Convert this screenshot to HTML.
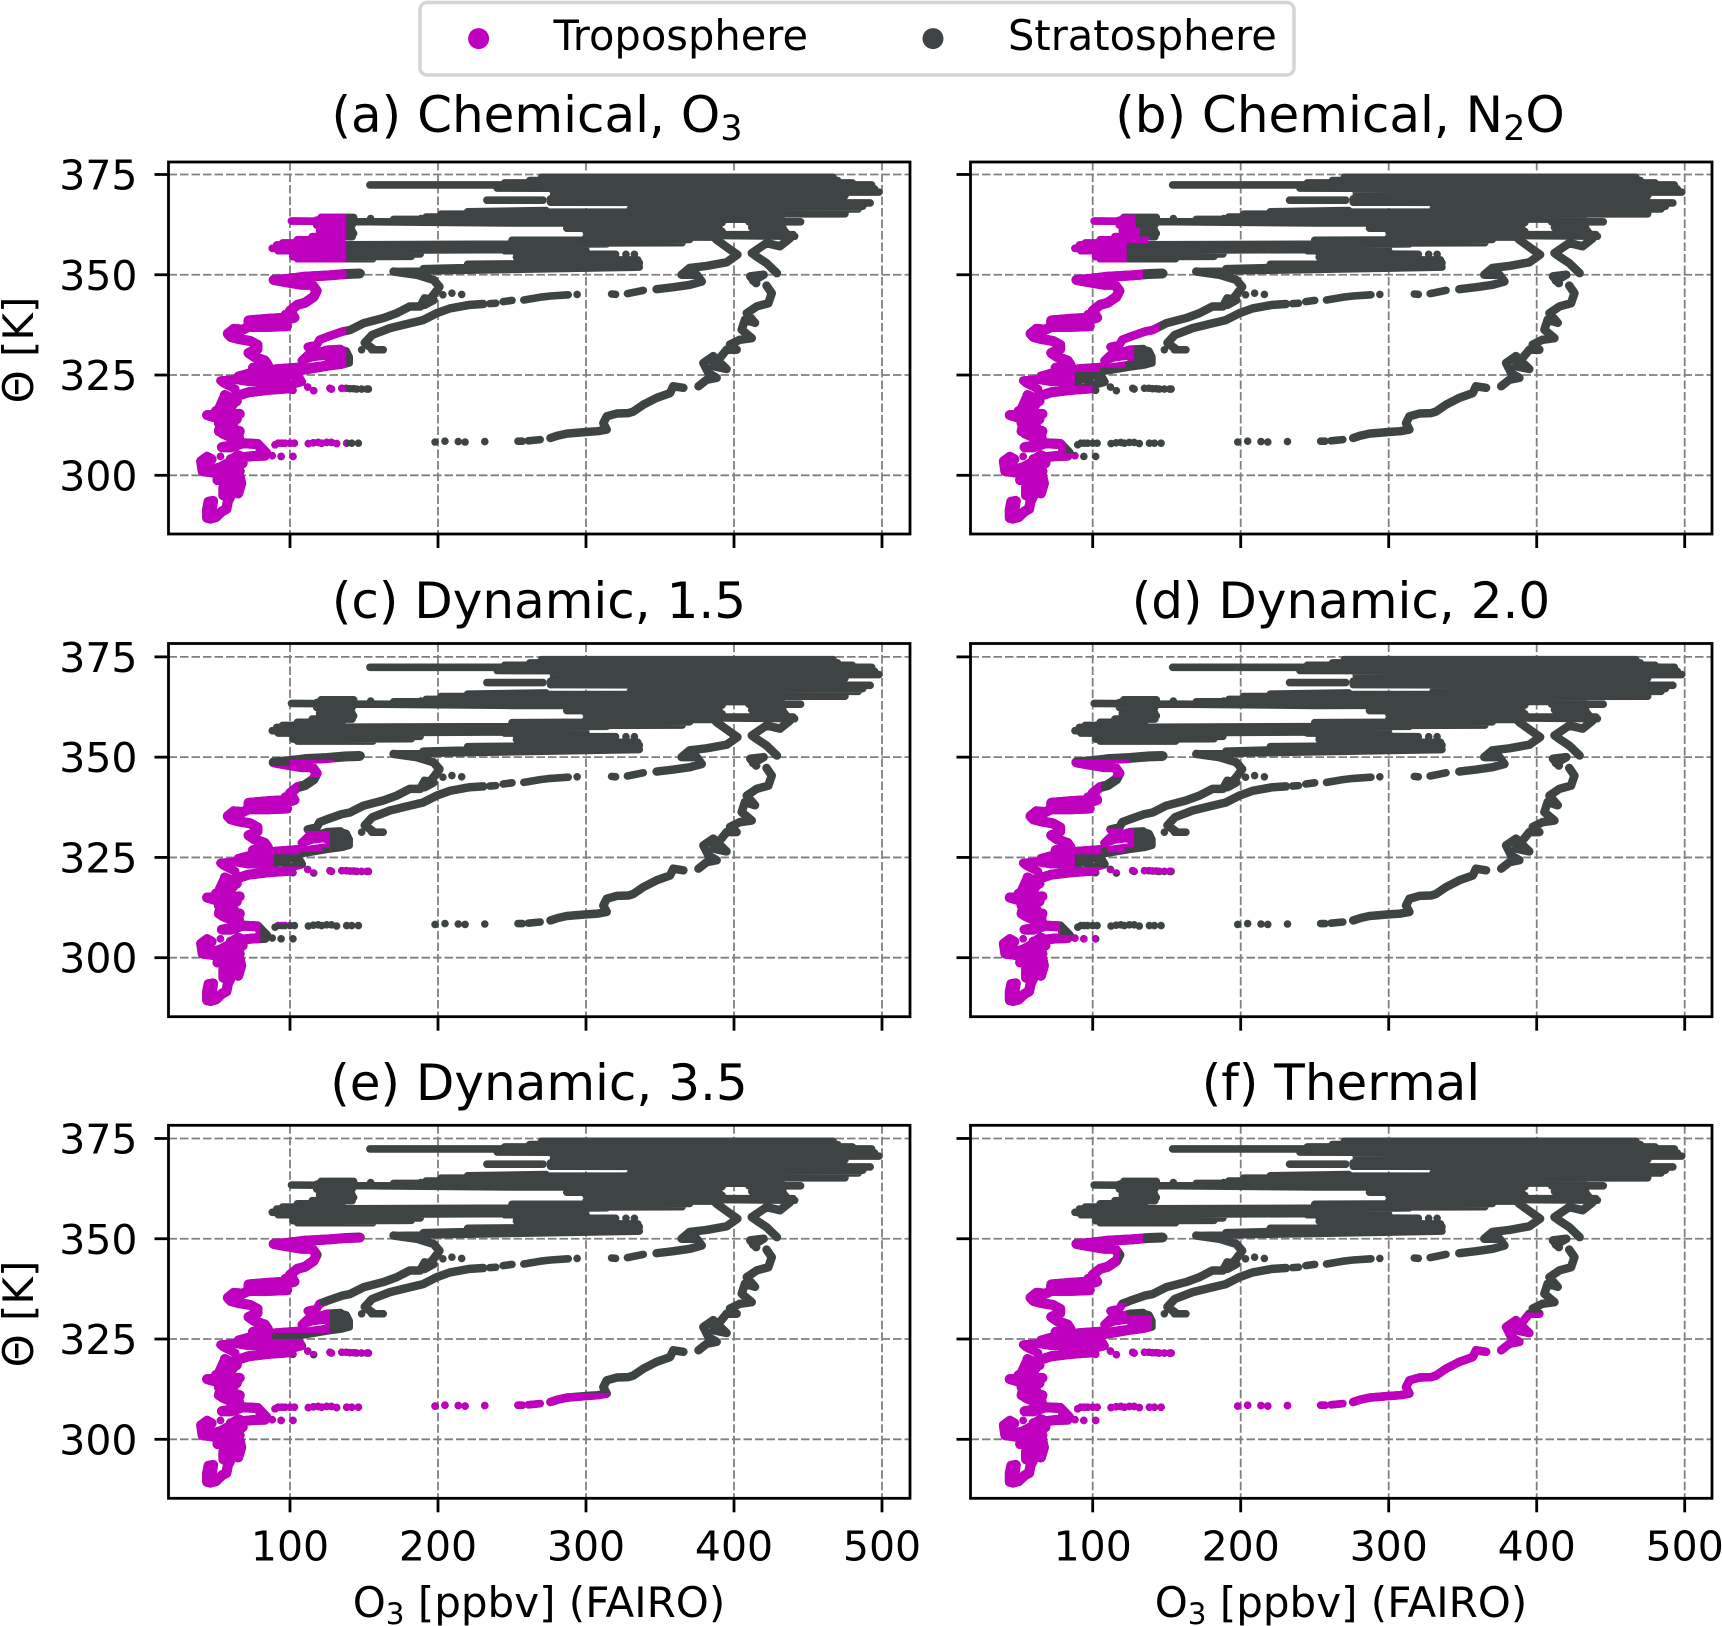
<!DOCTYPE html>
<html lang="en">
<head>
<meta charset="utf-8">
<title>Tropopause classification panels</title>
<style>
html,body{margin:0;padding:0;background:#fff;}
svg{display:block;font-family:"DejaVu Sans","Liberation Sans",sans-serif;fill:#000;}
</style>
</head>
<body>
<svg id="figure" xmlns="http://www.w3.org/2000/svg" width="1722" height="1626" viewBox="0 0 1722 1626">
  <rect width="1722" height="1626" fill="#fff"/>
  <defs id="clip-defs"></defs>
  <g id="panels"></g>

  <g>
    <rect x="420" y="2.5" width="874" height="72.5" rx="7" fill="#fff" stroke="#d5d5d5" stroke-width="3.5"/>
    <circle cx="478.6" cy="38.6" r="10.5" fill="#bf00bf"/>
    <text x="553.5" y="50" font-size="41.6">Troposphere</text>
    <circle cx="933" cy="38.6" r="10.5" fill="#3e4444"/>
    <text x="1008" y="50" font-size="41.6">Stratosphere</text>
  </g>

  <text x="537" y="132" text-anchor="middle" font-size="50">(a) Chemical, O<tspan dy="8" font-size="35">3</tspan></text>
  <text x="1340" y="132" text-anchor="middle" font-size="50">(b) Chemical, N<tspan dy="8" font-size="35">2</tspan><tspan dy="-8">O</tspan></text>
  <text x="539" y="618" text-anchor="middle" font-size="50">(c) Dynamic, 1.5</text>
  <text x="1341" y="618" text-anchor="middle" font-size="50">(d) Dynamic, 2.0</text>
  <text x="539" y="1100" text-anchor="middle" font-size="50">(e) Dynamic, 3.5</text>
  <text x="1341" y="1100" text-anchor="middle" font-size="50">(f) Thermal</text>

  <text transform="translate(33,350) rotate(-90)" text-anchor="middle" font-size="42">&#920; [K]</text>
  <text transform="translate(33,1314) rotate(-90)" text-anchor="middle" font-size="42">&#920; [K]</text>
  <text x="539" y="1617" text-anchor="middle" font-size="42">O<tspan dy="7" font-size="29.4">3</tspan><tspan dy="-7"> [ppbv] (FAIRO)</tspan></text>
  <text x="1341" y="1617" text-anchor="middle" font-size="42">O<tspan dy="7" font-size="29.4">3</tspan><tspan dy="-7"> [ppbv] (FAIRO)</tspan></text>
</svg>

<script>
// Axis tick labels
const xTicks = [100, 200, 300, 400, 500];
const yTicks = [300, 325, 350, 375];

// Flight samples as [O3 ppbv, theta K]; consecutive samples in a piece are contiguous
const trackBase = [[44,289.4],[44,291.5],[45,293.4],[48,293.6],[47,291.2],[46,289.2],[50,289.6],[54,291],[57,291.6],[58,293.5],[60,295],[61,296.3],[65,295.5],[67,298],[66,299.6],[62,300],[57,299],[55,297],[55,295],[59,296.5],[63,298],[60,300.5],[56,300.5],[52,300.2],[51,298.8],[56,299.5],[64,297],[60,298],[66,301],[58,302],[68,303],[60,304]];
const trackLobe = [[52,300.4],[46,300.8],[41,301],[40,303.5],[44,304.6],[47,304],[43,302.5],[48,301.5],[53,302],[58,303],[62,302],[66,302.5],[68,304.5],[65,305],[60,303.8],[57,301.5],[62,300.2]];
const trackRise = [[68,304.5],[75,304.8],[83,304.9],[80,306.5],[84,305.5],[78,307.8],[68,308],[60,307],[54,307],[62,307.5],[66,308.5],[65,310],[66,311],[59,310.6],[56,311.5],[52,311],[53,312.5],[58,313.5],[44,315],[50,315],[60,315.2],[66,315.3],[58,314],[52,316.5],[55,319],[62,319.5],[57,318],[54,317],[66,320],[72,320.7],[85,321.3],[100,321.7]];
const trackFill = [[60,309.5],[54,310.5],[62,312],[52,313],[64,314],[50,316],[60,317],[62,318],[56,320],[64,318.5]];
const trackKink = [[63,321.5],[55,323],[53,323.6],[62,323.9],[72,323.3],[85,323.4],[95,324],[100,322.5],[108,323.3],[106,324.5],[93,325.5],[85,324.3],[75,324],[65,324.8],[72,325.5],[80,325.8],[90,326.6],[105,327]];
const trackUpper = [[75,326.8],[85,327.5],[83,328.6],[76,329.5],[72,330.5],[78,331.5],[78,332.5],[73,333.5],[65,334],[60,334.5],[58,335.3],[62,336.5],[68,336.3],[72,337],[72,338.6],[85,339],[93,339.2],[98,337.2],[85,337],[73,337],[84,338],[90,338]];
const trackNeck = [[97,340],[100,339],[103,339.3],[100,341],[105,342.5],[110,343],[116,344.5],[118,346],[115,347.5],[108,347.5],[95,348.3],[89,348.7],[100,349],[110,349.5],[125,349.8],[138,350.2],[147,350.3]];
const trackCluster = [[104,326.3],[115,327],[125,327.5],[135,328.5],[138,329.5],[130,329.8],[122,329.8],[115,329.5],[108,328.6],[112,330],[118,330.5],[125,331.3],[134,331.5],[137,330],[130,328.8],[115,331],[112,332],[118,332.5],[120,333.8],[125,334.5],[135,335.8]];

const trackClusterRight = [[127,331],[133,331.5],[138,331],[140,329.5],[140,328],[135,327.5],[125,327],[112,326.2],[100,325.5],[92,325]];
const arcInner = [[135,335.8],[140.5,336.2],[149.6,337.9],[163,339.2],[172,340.4],[181,342.1],[188,342.1],[191,344.1],[197,343.7],[191,342.5],[197,345],[201,347],[197,348.7],[185.6,350],[170,350.8]];
const arcMiddle = [[156,331.5],[150.5,333],[155.5,335],[167.5,336.7],[181,337.9],[190,338.7],[199,340.4],[208,341.6],[221.5,342.5],[230.6,342.7]];
const arcMiddleG = [[347.7,346.4],[359,346.9],[370.3,347.5],[378.2,348.3],[374.8,350],[364.6,350],[370,351.7],[381.5,352.2],[395,353.1],[402.3,355],[396.2,356.6],[388.3,358.7],[385,360]];
const arcOuterC = [[276,309.3],[281,309.9],[287,310.4],[300,310.8],[308,311],[314,311.4],[311.7,313],[314,314.7],[320.7,315.4],[328.6,315.5],[332,315.9],[338.7,317.6],[347.7,319.3],[356.8,320.5],[359,322.2],[365.8,321.8]];
const arcOuterD = [[376,322.2],[381.5,323.8],[388.3,324.3],[382.7,325.5],[379.3,328],[386,329.7],[395,326.5],[386,327.2],[395,331.3],[401.8,331.3],[397.3,332.6],[404,333.8],[412,334.2],[405.2,336.3],[407.4,338.8],[414.2,338],[408.6,340.4],[415.3,342.1],[423.2,342.9],[425.5,345.4],[422,347.3]];
const arcOuterE = [[415,347.9],[411,349.6],[420,350],[413,348.5]];
const arcOuterF = [[429,350.4],[422,352.9],[415,354.6],[412,355.4],[422,357.9],[431,357.1],[437.8,359.1],[433.3,361.2],[429,362.9]];

const arcMiddleA = [[235,342.8],[239,342.9]];
const arcMiddleB = [[244,343.3],[250,343.6]];
const arcMiddleC = [[258,343.7],[269,344.4],[276,344.7],[288,345]];
const arcMiddleE = [[317.3,345.2],[320,345.1]];
const arcMiddleF = [[328,345.3],[338.7,346.1]];
const arcOuterA = [[254,308.5],[257,308.5]];
const arcOuterB = [[261,308.6],[269,308.9]];
const arcMiddleHook = [[155.2,331.3],[163,331.3]];

// Isolated samples
const isolatedSamples = [
[53,304.7],[203.3,345],[209.4,345.4],[216,345.1],[148.4,331.3],[294,345.1],
[198,308.3],[204.7,308.5],[213.7,308.4],[218.3,308.3],[231.6,308.4],
[102,321.2],[112,322],[116,321.1],[127,321.7],[128,321.5],[135,321.7],[138,321.7],[140.5,321.6],[143,321.6],[145,321.5],[148.4,321.5],[152,321.5],[153,321.5],
[89.9,307.6],[92,308],[94.4,308],[96.6,308],[100,308],[103,308],[112.4,307.9],[115.8,308.1],[119,308.2],[121.4,308],[124.8,308.2],[128,308.2],[131.5,307.9],[138.3,308],[141.7,308],[146.2,308],
[82,304.9],[88,304.9],[94,304.7],[102,304.7],
[154.5,364],[188.5,364],[327,355.1],[332.7,355.1]
];

const wideTraces = [trackBase, trackLobe, trackRise, trackFill, trackUpper, trackNeck];
const mediumTraces = [trackKink, trackCluster, arcInner, arcMiddle, arcMiddleG, arcOuterC, arcOuterD, arcOuterE, arcOuterF];
const thinTraces = [trackClusterRight, arcMiddleA, arcMiddleB, arcMiddleC, arcMiddleE, arcMiddleF, arcOuterA, arcOuterB, arcMiddleHook];

// Densely sampled level legs: [O3 start, theta start, O3 end, theta end]
const levelLegs = [
[154,372.4,300,372.4],[300,372.4,493,372.4],[270,374.3,467,374.3],[262,373.5,470,373.5],[245,372.9,480,372.9],
[240,371.6,495,371.4],[278,370.6,498,370.6],[278,369.7,475,369.7],[276,368.9,464,369],[233,368.6,271,368.6],
[276,368.1,492,367.9],[332,367,487,367.1],[330,366.4,484,366.4],[220,365.7,273,366],[220,365.6,475,365.6],
[202,365.1,475,365.2],[192,364.4,432,364.6],[170,363.8,430,363.9],[101,363.4,250,362.9],[200,363.8,300,363.6],
[250,362.9,392,363],[410,363.2,445,363.2],[287,361.6,390,361.6],[412,361.8,433,361.8],[300,360.8,392,360.8],
[314,360,440,360],[300,359.4,385,359.4],[385,359.8,441,359.6],[264,357.9,365,358],[250,358.6,370,358.8],
[121,364.3,143,364.3],[118,363.6,142,363.6],[118,362.4,142,362.4],[120,361.7,140,361.6],[120,361,142,361],
[120,360.3,143,360.3],[115,359.5,142,359.5],[105,358.7,135,358.7],[95,357.9,130,358],[91,357.4,314,357.7],
[88,356.6,300,357],[92,356,260,356.3],[102,355.2,188,355.2],[102,354.5,182,354.6],[105,354,156,354],
[253,355.3,320,355.1],[253,354.4,320,354.4],[262,353.7,335,353.7],[245,356,300,356],[190,351.5,336,352.9],
[170,350.8,336,351.9],[220,352.6,336,353],[89,348.8,138,350],[100,349.4,148,350.4]
];

// Tropospheric regions per panel: [O3 low, O3 high, theta low, theta high]
const regionsA = [[0,138,280,380]];
const regionsB = [[0,91,280,305.5],[0,82,305.5,309],[0,100,309,322.3],[0,88,322.3,325.8],[0,105,325.8,326.8],[0,122,326.8,328.5],[0,128,328.5,333],[0,145,333,338],[0,134,338,351.5],[0,123,353,357.8],[0,138,357.8,359.5],[0,132,359.5,361.8],[0,129,361.8,365]];
const regionsC = [[0,80,280,308.5],[0,100,308.5,320.7],[0,155,320.7,322.7],[0,89,322.7,325.8],[0,107,325.8,326.5],[0,122,326.5,327.5],[0,127,327.5,331.6],[0,106,331.6,345],[0,130,345,347.8],[100,130,347.8,349.3]];
const regionsD = [[0,103,280,305.6],[0,78,305.6,309],[0,100,309,320.8],[0,155,320.8,322.6],[0,88,322.6,325.8],[0,106,325.8,327.5],[110,122,326.3,327.5],[0,128,327.5,332.2],[0,106,332.2,345],[0,125,345,349.4]];
const regionsE = [[0,150,280,309.5],[150,316,307,311.5],[0,100,309.5,320.7],[0,155,320.7,322.7],[0,110,322.7,325],[0,88,325,326.5],[0,127,326.5,333.5],[0,120,333.5,347.5],[0,150,347.5,351.2]];
const regionsF = [[0,155,280,326.5],[150,370,305,329.5],[370,405,305,331.6],[0,140,326.5,330.8],[0,123,330.8,334],[0,118,334,347],[0,134,347,351.2]];

const SVGNS = 'http://www.w3.org/2000/svg';
const panelsRoot = document.getElementById('panels');
const clipDefs = document.getElementById('clip-defs');

function shape(tag, parent) {
  const e = document.createElementNS(SVGNS, tag);
  parent.appendChild(e);
  return e;
}

function drawPanel(key, regions, left, right, top, bottom, x100, y300, labelX, labelY) {
  const xScale = function (v) { return x100 + (v - 100) * 1.48; };
  const yScale = function (t) { return y300 - (t - 300) * 4.011; };

  const g = shape('g', panelsRoot);
  
  

  xTicks.forEach(function (tick) {
    const grid = shape('line', g);
    
    
    grid.setAttribute('x1', xScale(tick));
    grid.setAttribute('x2', xScale(tick));
    grid.setAttribute('y1', top);
    grid.setAttribute('y2', bottom);
    grid.setAttribute('stroke', '#808080');
    grid.setAttribute('stroke-width', '1.8');
    grid.setAttribute('stroke-dasharray', '8.5 3');
  });
  yTicks.forEach(function (tick) {
    const grid = shape('line', g);
    
    
    grid.setAttribute('x1', left);
    grid.setAttribute('x2', right);
    grid.setAttribute('y1', yScale(tick));
    grid.setAttribute('y2', yScale(tick));
    grid.setAttribute('stroke', '#808080');
    grid.setAttribute('stroke-width', '1.8');
    grid.setAttribute('stroke-dasharray', '8.5 3');
  });

  const tracePath = function (pieces) {
    let d = '';
    pieces.forEach(function (piece) {
      piece.forEach(function (p, i) {
        d += (i === 0 ? 'M' : 'L') + xScale(p[0]).toFixed(2) + ' ' + yScale(p[1]).toFixed(2);
      });
    });
    return d;
  };

  let thinPath = tracePath(thinTraces);
  levelLegs.forEach(function (leg) {
    thinPath += 'M' + xScale(leg[0]).toFixed(2) + ' ' + yScale(leg[1]).toFixed(2) +
                'L' + xScale(leg[2]).toFixed(2) + ' ' + yScale(leg[3]).toFixed(2);
  });
  isolatedSamples.forEach(function (p) {
    thinPath += 'M' + xScale(p[0]).toFixed(2) + ' ' + yScale(p[1]).toFixed(2) +
                'L' + (xScale(p[0]) + 0.01).toFixed(2) + ' ' + yScale(p[1]).toFixed(2);
  });
  const widePath = tracePath(wideTraces);
  const mediumPath = tracePath(mediumTraces);

  const clip = shape('clipPath', clipDefs);
  clip.setAttribute('id', 'tropo-clip-' + key);
  regions.forEach(function (r) {
    const cell = shape('rect', clip);
    cell.setAttribute('x', xScale(r[0]));
    cell.setAttribute('width', xScale(r[1]) - xScale(r[0]));
    cell.setAttribute('y', yScale(r[3]));
    cell.setAttribute('height', yScale(r[2]) - yScale(r[3]));
  });

  const layers = [[thinPath, '7.6', 'dots'], [mediumPath, '8.5', 'arcs'], [widePath, '10', 'profile']];
  layers.forEach(function (layer) {
    const strat = shape('path', g);
    
    
    strat.setAttribute('d', layer[0]);
    strat.setAttribute('fill', 'none');
    strat.setAttribute('stroke', '#3e4444');
    strat.setAttribute('stroke-width', layer[1]);
    strat.setAttribute('stroke-linecap', 'round');
    strat.setAttribute('stroke-linejoin', 'round');
  });
  layers.forEach(function (layer) {
    const tropo = shape('path', g);
    
    
    tropo.setAttribute('d', layer[0]);
    tropo.setAttribute('fill', 'none');
    tropo.setAttribute('stroke', '#bf00bf');
    tropo.setAttribute('stroke-width', layer[1]);
    tropo.setAttribute('stroke-linecap', 'round');
    tropo.setAttribute('stroke-linejoin', 'round');
    tropo.setAttribute('clip-path', 'url(#tropo-clip-' + key + ')');
  });

  const frame = shape('rect', g);
  
  
  frame.setAttribute('x', left);
  frame.setAttribute('y', top);
  frame.setAttribute('width', right - left);
  frame.setAttribute('height', bottom - top);
  frame.setAttribute('fill', 'none');
  frame.setAttribute('stroke', '#000');
  frame.setAttribute('stroke-width', '2.8');

  xTicks.forEach(function (tick) {
    const mark = shape('line', g);
    
    
    mark.setAttribute('x1', xScale(tick));
    mark.setAttribute('x2', xScale(tick));
    mark.setAttribute('y1', bottom);
    mark.setAttribute('y2', bottom + 14);
    mark.setAttribute('stroke', '#000');
    mark.setAttribute('stroke-width', '2.8');
    if (labelX) {
      const label = shape('text', g);
      
      
      label.setAttribute('x', xScale(tick));
      label.setAttribute('y', bottom + 62);
      label.setAttribute('text-anchor', 'middle');
      label.setAttribute('font-size', '41');
      label.textContent = String(tick);
    }
  });
  yTicks.forEach(function (tick) {
    const mark = shape('line', g);
    
    
    mark.setAttribute('x1', left - 14);
    mark.setAttribute('x2', left);
    mark.setAttribute('y1', yScale(tick));
    mark.setAttribute('y2', yScale(tick));
    mark.setAttribute('stroke', '#000');
    mark.setAttribute('stroke-width', '2.8');
    if (labelY) {
      const label = shape('text', g);
      
      
      label.setAttribute('x', left - 31);
      label.setAttribute('y', yScale(tick) + 15);
      label.setAttribute('text-anchor', 'end');
      label.setAttribute('font-size', '41');
      label.textContent = String(tick);
    }
  });
}

drawPanel('a', regionsA, 168.5, 910, 162, 534, 290, 475.3, false, true);
drawPanel('b', regionsB, 970.5, 1712, 162, 534, 1092.7, 475.3, false, false);
drawPanel('c', regionsC, 168.5, 910, 643.5, 1016.7, 290, 957.7, false, true);
drawPanel('d', regionsD, 970.5, 1712, 643.5, 1016.7, 1092.7, 957.7, false, false);
drawPanel('e', regionsE, 168.5, 910, 1125.3, 1498.3, 290, 1439.3, true, true);
drawPanel('f', regionsF, 970.5, 1712, 1125.3, 1498.3, 1092.7, 1439.3, true, false);
</script>
</body>
</html>
